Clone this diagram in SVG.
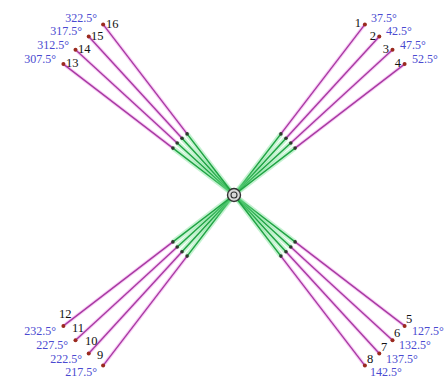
<svg xmlns="http://www.w3.org/2000/svg" width="445" height="387" viewBox="0 0 445 387">
<style>
.halo{stroke:#f2a6ee;stroke-width:3.5;stroke-opacity:0.55;fill:none}
.mag{stroke:#a83aa2;stroke-width:1.4;fill:none}
.ghalo{stroke:#6fdf8c;stroke-width:5;stroke-opacity:0.4;fill:none}
.grn{stroke:#1fa443;stroke-width:1.5;fill:none}
.tdot{fill:#2d3a2d}
.dot{fill:#9a2a1e}
.num{font-family:"Liberation Serif",serif;font-size:12.5px;fill:#111;dominant-baseline:central}
.ang{font-family:"Liberation Serif",serif;font-size:12px;fill:#4a4ad0;dominant-baseline:central}
.s{text-anchor:start}
.e{text-anchor:end}
</style>
<rect width="445" height="387" fill="#fff"/>
<g id="connectors">
<g id="c1"><line class="halo" x1="364.9" y1="24.4" x2="280.9" y2="133.9"/><line class="mag" x1="364.9" y1="24.4" x2="280.9" y2="133.9"/><line class="ghalo" x1="280.9" y1="133.9" x2="234" y2="195"/><line class="grn" x1="280.9" y1="133.9" x2="234" y2="195"/><circle class="tdot" cx="280.9" cy="133.9" r="1.8"/></g>
<g id="c2"><line class="halo" x1="379.3" y1="36.5" x2="286.0" y2="138.2"/><line class="mag" x1="379.3" y1="36.5" x2="286.0" y2="138.2"/><line class="ghalo" x1="286.0" y1="138.2" x2="234" y2="195"/><line class="grn" x1="286.0" y1="138.2" x2="234" y2="195"/><circle class="tdot" cx="286.0" cy="138.2" r="1.8"/></g>
<g id="c3"><line class="halo" x1="392.5" y1="49.7" x2="290.8" y2="143.0"/><line class="mag" x1="392.5" y1="49.7" x2="290.8" y2="143.0"/><line class="ghalo" x1="290.8" y1="143.0" x2="234" y2="195"/><line class="grn" x1="290.8" y1="143.0" x2="234" y2="195"/><circle class="tdot" cx="290.8" cy="143.0" r="1.8"/></g>
<g id="c4"><line class="halo" x1="404.6" y1="64.1" x2="295.1" y2="148.1"/><line class="mag" x1="404.6" y1="64.1" x2="295.1" y2="148.1"/><line class="ghalo" x1="295.1" y1="148.1" x2="234" y2="195"/><line class="grn" x1="295.1" y1="148.1" x2="234" y2="195"/><circle class="tdot" cx="295.1" cy="148.1" r="1.8"/></g>
<g id="c5"><line class="halo" x1="404.6" y1="325.9" x2="295.1" y2="241.9"/><line class="mag" x1="404.6" y1="325.9" x2="295.1" y2="241.9"/><line class="ghalo" x1="295.1" y1="241.9" x2="234" y2="195"/><line class="grn" x1="295.1" y1="241.9" x2="234" y2="195"/><circle class="tdot" cx="295.1" cy="241.9" r="1.8"/></g>
<g id="c6"><line class="halo" x1="392.5" y1="340.3" x2="290.8" y2="247.0"/><line class="mag" x1="392.5" y1="340.3" x2="290.8" y2="247.0"/><line class="ghalo" x1="290.8" y1="247.0" x2="234" y2="195"/><line class="grn" x1="290.8" y1="247.0" x2="234" y2="195"/><circle class="tdot" cx="290.8" cy="247.0" r="1.8"/></g>
<g id="c7"><line class="halo" x1="379.3" y1="353.5" x2="286.0" y2="251.8"/><line class="mag" x1="379.3" y1="353.5" x2="286.0" y2="251.8"/><line class="ghalo" x1="286.0" y1="251.8" x2="234" y2="195"/><line class="grn" x1="286.0" y1="251.8" x2="234" y2="195"/><circle class="tdot" cx="286.0" cy="251.8" r="1.8"/></g>
<g id="c8"><line class="halo" x1="364.9" y1="365.6" x2="280.9" y2="256.1"/><line class="mag" x1="364.9" y1="365.6" x2="280.9" y2="256.1"/><line class="ghalo" x1="280.9" y1="256.1" x2="234" y2="195"/><line class="grn" x1="280.9" y1="256.1" x2="234" y2="195"/><circle class="tdot" cx="280.9" cy="256.1" r="1.8"/></g>
<g id="c9"><line class="halo" x1="103.1" y1="365.6" x2="187.1" y2="256.1"/><line class="mag" x1="103.1" y1="365.6" x2="187.1" y2="256.1"/><line class="ghalo" x1="187.1" y1="256.1" x2="234" y2="195"/><line class="grn" x1="187.1" y1="256.1" x2="234" y2="195"/><circle class="tdot" cx="187.1" cy="256.1" r="1.8"/></g>
<g id="c10"><line class="halo" x1="88.7" y1="353.5" x2="182.0" y2="251.8"/><line class="mag" x1="88.7" y1="353.5" x2="182.0" y2="251.8"/><line class="ghalo" x1="182.0" y1="251.8" x2="234" y2="195"/><line class="grn" x1="182.0" y1="251.8" x2="234" y2="195"/><circle class="tdot" cx="182.0" cy="251.8" r="1.8"/></g>
<g id="c11"><line class="halo" x1="75.5" y1="340.3" x2="177.2" y2="247.0"/><line class="mag" x1="75.5" y1="340.3" x2="177.2" y2="247.0"/><line class="ghalo" x1="177.2" y1="247.0" x2="234" y2="195"/><line class="grn" x1="177.2" y1="247.0" x2="234" y2="195"/><circle class="tdot" cx="177.2" cy="247.0" r="1.8"/></g>
<g id="c12"><line class="halo" x1="63.4" y1="325.9" x2="172.9" y2="241.9"/><line class="mag" x1="63.4" y1="325.9" x2="172.9" y2="241.9"/><line class="ghalo" x1="172.9" y1="241.9" x2="234" y2="195"/><line class="grn" x1="172.9" y1="241.9" x2="234" y2="195"/><circle class="tdot" cx="172.9" cy="241.9" r="1.8"/></g>
<g id="c13"><line class="halo" x1="63.4" y1="64.1" x2="172.9" y2="148.1"/><line class="mag" x1="63.4" y1="64.1" x2="172.9" y2="148.1"/><line class="ghalo" x1="172.9" y1="148.1" x2="234" y2="195"/><line class="grn" x1="172.9" y1="148.1" x2="234" y2="195"/><circle class="tdot" cx="172.9" cy="148.1" r="1.8"/></g>
<g id="c14"><line class="halo" x1="75.5" y1="49.7" x2="177.2" y2="143.0"/><line class="mag" x1="75.5" y1="49.7" x2="177.2" y2="143.0"/><line class="ghalo" x1="177.2" y1="143.0" x2="234" y2="195"/><line class="grn" x1="177.2" y1="143.0" x2="234" y2="195"/><circle class="tdot" cx="177.2" cy="143.0" r="1.8"/></g>
<g id="c15"><line class="halo" x1="88.7" y1="36.5" x2="182.0" y2="138.2"/><line class="mag" x1="88.7" y1="36.5" x2="182.0" y2="138.2"/><line class="ghalo" x1="182.0" y1="138.2" x2="234" y2="195"/><line class="grn" x1="182.0" y1="138.2" x2="234" y2="195"/><circle class="tdot" cx="182.0" cy="138.2" r="1.8"/></g>
<g id="c16"><line class="halo" x1="103.1" y1="24.4" x2="187.1" y2="133.9"/><line class="mag" x1="103.1" y1="24.4" x2="187.1" y2="133.9"/><line class="ghalo" x1="187.1" y1="133.9" x2="234" y2="195"/><line class="grn" x1="187.1" y1="133.9" x2="234" y2="195"/><circle class="tdot" cx="187.1" cy="133.9" r="1.8"/></g>
</g>
<g id="center">
<circle cx="234" cy="195" r="6.5" fill="#d8d8d8" stroke="#333" stroke-width="1.4"/>
<circle cx="234" cy="195" r="3" fill="none" stroke="#333" stroke-width="1.1"/>
</g>
<g id="n1"><circle class="dot" cx="364.9" cy="24.4" r="2"/><text class="num e" x="361" y="23">1</text><text class="ang s" x="371" y="18">37.5°</text></g>
<g id="n2"><circle class="dot" cx="379.3" cy="36.5" r="2"/><text class="num e" x="376" y="36">2</text><text class="ang s" x="386" y="31">42.5°</text></g>
<g id="n3"><circle class="dot" cx="392.5" cy="49.7" r="2"/><text class="num e" x="389" y="49">3</text><text class="ang s" x="400" y="44.5">47.5°</text></g>
<g id="n4"><circle class="dot" cx="404.6" cy="64.1" r="2"/><text class="num e" x="401" y="63">4</text><text class="ang s" x="412" y="59">52.5°</text></g>
<g id="n5"><circle class="dot" cx="404.6" cy="325.9" r="2"/><text class="num s" x="406" y="319">5</text><text class="ang s" x="412" y="331">127.5°</text></g>
<g id="n6"><circle class="dot" cx="392.5" cy="340.3" r="2"/><text class="num s" x="394" y="333">6</text><text class="ang s" x="399" y="345">132.5°</text></g>
<g id="n7"><circle class="dot" cx="379.3" cy="353.5" r="2"/><text class="num s" x="381" y="347">7</text><text class="ang s" x="386" y="359">137.5°</text></g>
<g id="n8"><circle class="dot" cx="364.9" cy="365.6" r="2"/><text class="num s" x="367" y="359">8</text><text class="ang s" x="370" y="372">142.5°</text></g>
<g id="n9"><circle class="dot" cx="103.1" cy="365.6" r="2"/><text class="num s" x="97" y="355">9</text><text class="ang e" x="97" y="372">217.5°</text></g>
<g id="n10"><circle class="dot" cx="88.7" cy="353.5" r="2"/><text class="num s" x="85" y="341">10</text><text class="ang e" x="82" y="359">222.5°</text></g>
<g id="n11"><circle class="dot" cx="75.5" cy="340.3" r="2"/><text class="num s" x="72" y="328">11</text><text class="ang e" x="68" y="345">227.5°</text></g>
<g id="n12"><circle class="dot" cx="63.4" cy="325.9" r="2"/><text class="num s" x="59" y="314">12</text><text class="ang e" x="56" y="331">232.5°</text></g>
<g id="n13"><circle class="dot" cx="63.4" cy="64.1" r="2"/><text class="num s" x="66" y="63">13</text><text class="ang e" x="56" y="59">307.5°</text></g>
<g id="n14"><circle class="dot" cx="75.5" cy="49.7" r="2"/><text class="num s" x="78" y="49">14</text><text class="ang e" x="69" y="44.5">312.5°</text></g>
<g id="n15"><circle class="dot" cx="88.7" cy="36.5" r="2"/><text class="num s" x="91" y="36">15</text><text class="ang e" x="82" y="31">317.5°</text></g>
<g id="n16"><circle class="dot" cx="103.1" cy="24.4" r="2"/><text class="num s" x="106" y="24">16</text><text class="ang e" x="97" y="18">322.5°</text></g>
</svg>
